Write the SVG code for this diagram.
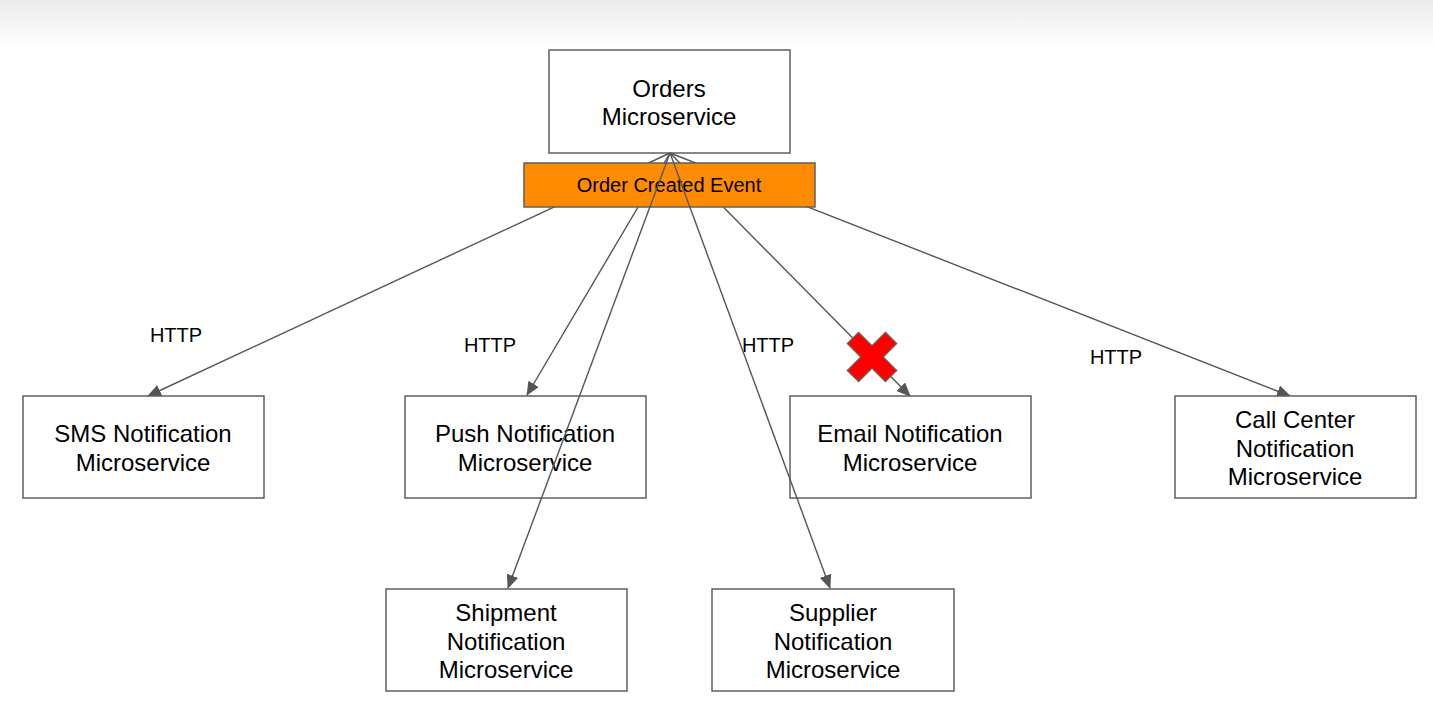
<svg xmlns="http://www.w3.org/2000/svg" width="1433" height="715" viewBox="0 0 1433 715">
<defs>
<linearGradient id="bg" x1="0" y1="0" x2="0" y2="1">
<stop offset="0" stop-color="#ebebeb"/>
<stop offset="1" stop-color="#ffffff"/>
</linearGradient>
<marker id="arr" markerWidth="14" markerHeight="12" refX="13" refY="6" orient="auto" markerUnits="userSpaceOnUse">
<path d="M0,0 L14,6 L0,12 Z" fill="#555"/>
</marker>
<style>
.box{fill:#fff;stroke:#5f5f5f;stroke-width:1.5}
.t{font-family:"Liberation Sans",Arial,sans-serif;font-size:24px;fill:#000;text-anchor:middle}
.lbl{font-family:"Liberation Sans",Arial,sans-serif;font-size:20px;fill:#000;text-anchor:middle}
.c{stroke:#555;stroke-width:1.4;fill:none;marker-end:url(#arr)}
</style>
</defs>
<rect x="0" y="0" width="1433" height="715" fill="#fff"/>
<rect x="0" y="0" width="1433" height="48" fill="url(#bg)"/>
<g id="orders">
<rect class="box" x="549" y="50" width="241" height="103"/>
<text class="t" x="669" y="97">Orders</text>
<text class="t" x="669" y="125">Microservice</text>
</g>
<g id="connectors">
<line class="c" x1="670" y1="153" x2="148" y2="396"/>
<line class="c" x1="670" y1="153" x2="527" y2="395"/>
<line class="c" x1="670" y1="153" x2="910" y2="396"/>
<line class="c" x1="670" y1="153" x2="1290" y2="396"/>
</g>
<g id="event">
<rect x="524" y="163" width="291" height="44" fill="#ff8c00" stroke="#5f5f5f" stroke-width="1.5"/>
<text class="lbl" x="669" y="192">Order Created Event</text>
</g>
<g id="labels">
<text class="lbl" x="176" y="342">HTTP</text>
<text class="lbl" x="490" y="352">HTTP</text>
<text class="lbl" x="768" y="352">HTTP</text>
<text class="lbl" x="1116" y="364">HTTP</text>
</g>
<g id="sms">
<rect class="box" x="23" y="396" width="241" height="102"/>
<text class="t" x="143" y="442">SMS Notification</text>
<text class="t" x="143" y="471">Microservice</text>
</g>
<g id="push">
<rect class="box" x="405" y="396" width="241" height="102"/>
<text class="t" x="525" y="442">Push Notification</text>
<text class="t" x="525" y="471">Microservice</text>
</g>
<g id="email">
<rect class="box" x="790" y="396" width="241" height="102"/>
<text class="t" x="910" y="442">Email Notification</text>
<text class="t" x="910" y="471">Microservice</text>
</g>
<g id="callcenter">
<rect class="box" x="1175" y="396" width="241" height="102"/>
<text class="t" x="1295" y="428">Call Center</text>
<text class="t" x="1295" y="457">Notification</text>
<text class="t" x="1295" y="485">Microservice</text>
</g>
<g id="shipment">
<rect class="box" x="386" y="589" width="241" height="102"/>
<text class="t" x="506" y="621">Shipment</text>
<text class="t" x="506" y="650">Notification</text>
<text class="t" x="506" y="678">Microservice</text>
</g>
<g id="supplier">
<rect class="box" x="712" y="589" width="242" height="102"/>
<text class="t" x="833" y="621">Supplier</text>
<text class="t" x="833" y="650">Notification</text>
<text class="t" x="833" y="678">Microservice</text>
</g>
<g id="connectors-over">
<line class="c" x1="670" y1="153" x2="508" y2="588"/>
<line class="c" x1="670" y1="153" x2="830" y2="588"/>
</g>
<g id="redx">
<path transform="translate(872,357) rotate(45)" d="M-8,-27 H8 V-8 H27 V8 H8 V27 H-8 V8 H-27 V-8 H-8 Z" fill="#ff0000" stroke="#666" stroke-width="1.2"/>
</g>
</svg>
